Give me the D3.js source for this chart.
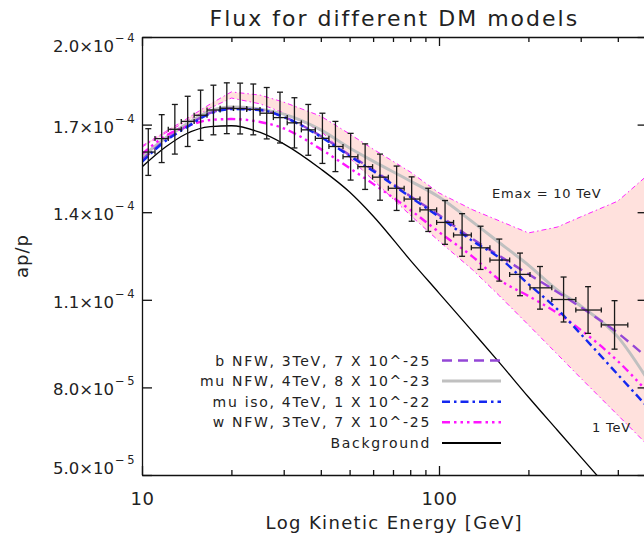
<!DOCTYPE html>
<html>
<head>
<meta charset="utf-8">
<script src="https://cdn.jsdelivr.net/npm/d3@7"></script>
<style>
  body { margin: 0; background: #fff; }
  svg text { font-family: "DejaVu Sans", sans-serif; fill: #222; }
</style>
</head>
<body>
<svg id="chart" width="644" height="538"></svg>
<script>
// model curves are sampled at these energies (GeV), fluxes in units of 1e-5
var energies = [10, 12, 14, 17, 20, 25, 30, 40, 50, 60, 80, 100, 130, 160, 200, 250, 300, 400, 500];
var bNFW  = [15.79, 16.47, 16.92, 17.40, 17.55, 17.50, 17.26, 16.61, 15.96, 15.45, 14.55, 13.90, 13.08, 12.50, 11.88, 11.27, 10.75, 9.86, 9.04];
var muNFW = [15.89, 16.54, 16.99, 17.47, 17.60, 17.53, 17.36, 16.82, 16.20, 15.75, 15.07, 14.52, 13.66, 12.95, 12.19, 11.34, 10.79, 9.73, 8.32];
var muIso = [15.72, 16.44, 16.88, 17.38, 17.53, 17.50, 17.26, 16.58, 15.92, 15.41, 14.52, 13.84, 13.01, 12.43, 11.54, 10.68, 9.83, 8.44, 7.36];
var wNFW  = [15.99, 16.61, 16.92, 17.16, 17.19, 17.09, 16.87, 16.16, 15.51, 14.97, 14.08, 13.32, 12.47, 11.68, 11.13, 10.55, 9.97, 8.90, 7.88];
var background = [15.55, 16.23, 16.67, 16.93, 16.96, 16.73, 16.34, 15.48, 14.69, 13.87, 12.36, 11.23, 9.90, 8.84, 7.67, 6.54, 5.62, 4.18, 3.08];
var emax10TeV = [16.27, 16.76, 17.17, 17.71, 18.12, 18.01, 17.77, 17.29, 16.68, 16.16, 15.38, 14.66, 14.08, 13.70, 13.29, 13.49, 13.84, 14.38, 15.24];
var emax1TeV  = [16.23, 16.71, 17.09, 17.57, 17.91, 17.71, 17.40, 16.78, 15.86, 15.10, 13.90, 13.01, 12.02, 11.13, 10.14, 9.14, 8.32, 7.05, 6.06];

// measured ratio with errors
var dataE    = [10.5, 11.65, 12.9, 14.25, 15.75, 17.4, 19.3, 21.4, 23.7, 26.3, 29.15, 32.6, 36.3, 40.5, 44.8,
                50.4, 56.4, 63.3, 72.0, 80.9, 92.0, 104.8, 119.6, 138, 159.6, 187.4, 218.8, 262.7, 317.6, 390];
var dataFlux = [16.06, 16.52, 16.84, 17.11, 17.32, 17.50, 17.56, 17.55, 17.52, 17.39, 17.24, 17.06, 16.82, 16.53, 16.25,
                15.90, 15.56, 15.20, 14.82, 14.45, 14.08, 13.65, 13.22, 12.78, 12.36, 11.87, 11.41, 11.01, 10.65, 10.14];
var dataErr  = [0.80, 0.82, 0.85, 0.86, 0.86, 0.85, 0.87, 0.87, 0.87, 0.88, 0.87, 0.86, 0.87, 0.86, 0.86,
                0.80, 0.78, 0.79, 0.76, 0.76, 0.74, 0.75, 0.73, 0.74, 0.72, 0.73, 0.73, 0.77, 0.80, 0.83];

var xTicksMajor = [10, 100];
var xTicksMinor = [20, 30, 40, 50, 60, 70, 80, 90, 200, 300, 400, 500];
var yTicks     = [2.0e-4, 1.7e-4, 1.4e-4, 1.1e-4, 8.0e-5, 5.0e-5];
var yMantissa  = ["2.0", "1.7", "1.4", "1.1", "8.0", "5.0"];
var yExponent  = ["-4", "-4", "-4", "-4", "-5", "-5"];

var legendLabels = ["b NFW, 3TeV, 7 X 10^-25", "mu NFW, 4TeV, 8 X 10^-23", "mu iso, 4TeV, 1 X 10^-22",
                    "w NFW, 3TeV, 7 X 10^-25", "Background"];

(function() {
  var svg = d3.select("#chart");
  var mLeft = 142, mRight = 646.6, mTop = 37, mBottom = 475;

  var x = d3.scaleLog().domain([10, 500]).range([mLeft, mRight]);
  var y = d3.scaleLinear().domain([5e-5, 2e-4]).range([mBottom, mTop]);

  var styles = {
    b:    { stroke: "#9447d6", width: 2.4, dash: "10,6" },
    mu:   { stroke: "#c0c0c0", width: 3,   dash: null },
    iso:  { stroke: "#1428f0", width: 2.4, dash: "8,4,2.5,4" },
    w:    { stroke: "#ff14ff", width: 2.4, dash: "8,4,2.5,4,2.5,4,2.5,4" },
    bg:   { stroke: "#000",    width: 1.3, dash: null },
    band: { stroke: "#ff22ff", width: 1,   dash: "5,3,1.5,3" }
  };

  svg.append("defs").append("clipPath").attr("id", "plotclip")
    .append("rect").attr("x", mLeft).attr("y", mTop)
    .attr("width", mRight - mLeft).attr("height", mBottom - mTop);

  var plot = svg.append("g").attr("clip-path", "url(#plotclip)");

  function curve(vals, smooth) {
    return d3.line()
      .x(function(d, i) { return x(energies[i]); })
      .y(function(d) { return y(d * 1e-5); })
      .curve(smooth ? d3.curveMonotoneX : d3.curveLinear)(vals);
  }
  function drawCurve(vals, st, smooth) {
    plot.append("path").attr("d", curve(vals, smooth))
      .attr("fill", "none").attr("stroke", st.stroke)
      .attr("stroke-width", st.width)
      .attr("stroke-dasharray", st.dash);
  }

  // Emax band
  var band = d3.area()
    .x(function(d, i) { return x(energies[i]); })
    .y0(function(d, i) { return y(emax1TeV[i] * 1e-5); })
    .y1(function(d) { return y(d * 1e-5); });
  plot.append("path").attr("d", band(emax10TeV)).attr("fill", "#ffe1dd");
  drawCurve(emax10TeV, styles.band);
  drawCurve(emax1TeV, styles.band);

  drawCurve(muNFW, styles.mu, true);
  drawCurve(bNFW, styles.b, true);
  drawCurve(wNFW, styles.w, true);
  drawCurve(muIso, styles.iso, true);
  drawCurve(background, styles.bg, true);

  // data points with error bars
  var pts = plot.append("g").attr("stroke", "#1a1a1a").attr("stroke-width", 1.3);
  dataE.forEach(function(e, i) {
    var lo = i > 0 ? Math.sqrt(e * dataE[i - 1]) : e * e / Math.sqrt(e * dataE[i + 1]);
    var hi = i < dataE.length - 1 ? Math.sqrt(e * dataE[i + 1]) : e * e / Math.sqrt(e * dataE[i - 1]);
    var cx = x(e), cy = y(dataFlux[i] * 1e-5);
    var y0 = y((dataFlux[i] - dataErr[i]) * 1e-5), y1 = y((dataFlux[i] + dataErr[i]) * 1e-5);
    var x0 = x(lo), x1 = x(hi);
    pts.append("line").attr("x1", cx).attr("x2", cx).attr("y1", y0).attr("y2", y1);
    pts.append("line").attr("x1", cx - 3).attr("x2", cx + 3).attr("y1", y0).attr("y2", y0);
    pts.append("line").attr("x1", cx - 3).attr("x2", cx + 3).attr("y1", y1).attr("y2", y1);
    pts.append("line").attr("x1", x0).attr("x2", x1).attr("y1", cy).attr("y2", cy);
    pts.append("line").attr("x1", x0).attr("x2", x0).attr("y1", cy - 2.5).attr("y2", cy + 2.5);
    pts.append("line").attr("x1", x1).attr("x2", x1).attr("y1", cy - 2.5).attr("y2", cy + 2.5);
  });

  // axes
  function styleAxis(g) {
    g.selectAll("path, line").attr("stroke", "#111").attr("stroke-width", 1.3);
    g.attr("font-family", null).attr("font-size", null);
  }
  svg.append("g").attr("transform", "translate(0," + mBottom + ")")
    .call(d3.axisBottom(x).tickValues(xTicksMajor).tickSize(-9).tickSizeOuter(0).tickPadding(17).tickFormat(d3.format("d")))
    .call(styleAxis)
    .selectAll("text").style("font-size", "18px").style("letter-spacing", "0.5px");
  svg.append("g").attr("transform", "translate(0," + mBottom + ")")
    .call(d3.axisBottom(x).tickValues(xTicksMinor).tickSize(-5).tickSizeOuter(0).tickFormat(""))
    .call(styleAxis).select(".domain").remove();
  svg.append("g").attr("transform", "translate(0," + mTop + ")")
    .call(d3.axisTop(x).tickValues(xTicksMajor).tickSize(-9).tickSizeOuter(0).tickFormat(""))
    .call(styleAxis);
  svg.append("g").attr("transform", "translate(0," + mTop + ")")
    .call(d3.axisTop(x).tickValues(xTicksMinor).tickSize(-5).tickSizeOuter(0).tickFormat(""))
    .call(styleAxis).select(".domain").remove();
  svg.append("g").attr("transform", "translate(" + mRight + ",0)")
    .call(d3.axisRight(y).tickValues(yTicks).tickSize(-9).tickSizeOuter(0).tickFormat(""))
    .call(styleAxis);

  var yAxis = svg.append("g").attr("transform", "translate(" + mLeft + ",0)")
    .call(d3.axisLeft(y).tickValues(yTicks).tickSize(-10).tickSizeOuter(0).tickPadding(5).tickFormat(""))
    .call(styleAxis);
  yAxis.selectAll(".tick text").each(function(d, i) {
    // end labels are nudged inward, as in the original plot
    var shift = i === 0 ? 14.5 : (i === yTicks.length - 1 ? -2 : 7.5);
    var t = d3.select(this).attr("dy", shift + "px").style("font-size", "16.5px");
    t.append("tspan").text(yMantissa[i] + "\u00d710");
    t.append("tspan").attr("dy", "-10px").attr("dx", "1px")
      .style("font-size", "11.5px").style("letter-spacing", "2.5px")
      .text(yExponent[i].replace("-", "\u2212"));
  });

  // titles
  svg.append("text").attr("x", (mLeft + mRight) / 2).attr("y", 26)
    .attr("text-anchor", "middle").style("font-size", "22px").style("letter-spacing", "2px")
    .text("Flux for different DM models");
  svg.append("text").attr("x", (mLeft + mRight) / 2).attr("y", 529)
    .attr("text-anchor", "middle").style("font-size", "18px").style("letter-spacing", "1.35px")
    .text("Log Kinetic Energy [GeV]");
  svg.append("text").attr("transform", "translate(28," + ((mTop + mBottom) / 2) + ") rotate(-90)")
    .attr("text-anchor", "middle").style("font-size", "18px").style("letter-spacing", "1px")
    .text("ap/p");

  // annotations
  svg.append("text").attr("x", 492).attr("y", 198).style("font-size", "13px").style("letter-spacing", "0.8px")
    .text("Emax = 10 TeV");
  svg.append("text").attr("x", 592).attr("y", 432).style("font-size", "13px").style("letter-spacing", "0.8px")
    .text("1 TeV");

  // legend
  var legendStyles = [styles.b, styles.mu, styles.iso, styles.w, styles.bg];
  var leg = svg.append("g");
  legendLabels.forEach(function(lab, i) {
    var ly = 360.5 + i * 20.6;
    leg.append("text").attr("x", 431).attr("y", ly + 5).attr("text-anchor", "end")
      .style("font-size", "14px").style("letter-spacing", "1.7px").text(lab);
    var st = legendStyles[i];
    leg.append("line").attr("x1", 442).attr("x2", 501).attr("y1", ly).attr("y2", ly)
      .attr("stroke", st.stroke).attr("stroke-width", st.width === 1.3 ? 2 : st.width)
      .attr("stroke-dasharray", st.dash);
  });
})();
</script>
</body>
</html>
